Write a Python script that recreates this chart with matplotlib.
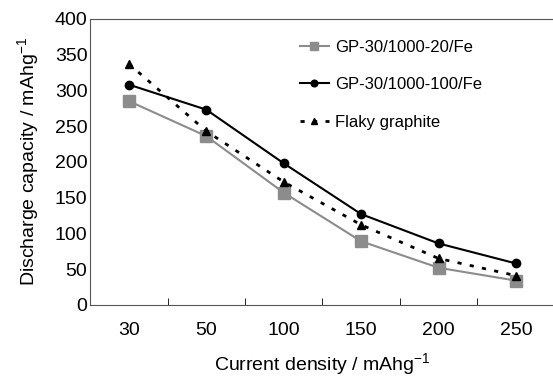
import matplotlib.pyplot as plt
import numpy as np

plt.rcParams['font.family'] = ['Liberation Sans', 'DejaVu Sans']
plt.rcParams['mathtext.fontset'] = 'custom'
plt.rcParams['mathtext.rm'] = 'Liberation Sans'
plt.rcParams['mathtext.it'] = 'Liberation Sans'

categories = ['30', '50', '100', '150', '200', '250']
gp_20 = [285, 236, 157, 89, 52, 34]
gp_100 = [308, 273, 198, 127, 86, 58]
flaky = [337, 243, 172, 112, 65, 41]

x = np.arange(len(categories))

fig = plt.figure(figsize=(5.53, 3.76), dpi=100)
ax = fig.add_axes([0.163, 0.189, 0.84, 0.761])

ax.plot(x, gp_20, color='#8c8c8c', marker='s', markersize=8, linewidth=1.5,
        label='GP-30/1000-20/Fe')
ax.plot(x, gp_100, color='black', marker='o', markersize=6, linewidth=1.5,
        label='GP-30/1000-100/Fe')
ax.plot(x, flaky, color='black', marker='^', markersize=6, linewidth=2,
        linestyle=(0, (1.5, 3)), label='Flaky graphite')

ax.set_xlim(-0.5, 5.5)
ax.set_ylim(0, 400)
ax.set_xticks(x)
ax.set_xticklabels(categories)
ax.set_xticks(x[:-1] + 0.5, minor=True)
ax.set_yticks(range(0, 401, 50))
ax.tick_params(axis='x', which='major', length=0, labelsize=14, pad=12)
ax.tick_params(axis='x', which='minor', direction='in', length=5)
ax.tick_params(axis='y', length=0, labelsize=14, pad=2)

for s in ax.spines.values():
    s.set_color('#555555')

ax.set_xlabel('Current density / mAhg$^{\\mathregular{-1}}$', fontsize=14, labelpad=9)
ax.set_ylabel('Discharge capacity / mAhg$^{\\mathregular{-1}}$', fontsize=14, labelpad=10)

ax.legend(loc='upper left', frameon=False, fontsize=12, handlelength=1.7,
          handletextpad=0.4, labelspacing=1.35, bbox_to_anchor=(0.42, 0.98),
          markerscale=0.8)

fig.savefig('out.png', dpi=100)
